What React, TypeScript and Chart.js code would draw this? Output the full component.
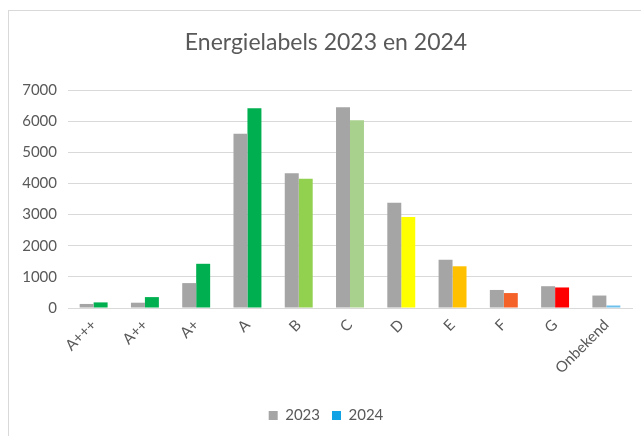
import React, { useEffect, useRef } from "react";
import { Chart, registerables } from "chart.js";

Chart.register(...registerables);

const categories = ["A+++", "A++", "A+", "A", "B", "C", "D", "E", "F", "G", "Onbekend"];
const values2023 = [130, 170, 800, 5600, 4330, 6450, 3380, 1550, 580, 700, 400];
const values2024 = [180, 350, 1420, 6420, 4150, 6030, 2920, 1340, 480, 660, 80];
const colors2024 = ["#00b050", "#00b050", "#00b050", "#00b050", "#92d050", "#a9d18e", "#ffff00", "#ffc000", "#f4622a", "#ff0000", "#6cc0ec"];
const color2023 = "#a5a5a5";
const legendColor2024 = "#10a2e4";
const yTicks = [0, 1000, 2000, 3000, 4000, 5000, 6000, 7000];

const FONT = "Lato, 'Open Sans', sans-serif";

export default function App() {
  const ref = useRef<HTMLCanvasElement | null>(null);

  useEffect(() => {
    if (!ref.current) return;
    const chart = new Chart(ref.current, {
      type: "bar",
      data: {
        labels: categories,
        datasets: [
          { label: "2023", data: values2023, backgroundColor: color2023, categoryPercentage: 0.545, barPercentage: 1 },
          { label: "2024", data: values2024, backgroundColor: colors2024, categoryPercentage: 0.545, barPercentage: 1 },
        ],
      },
      options: {
        animation: false,
        responsive: false,
        maintainAspectRatio: false,
        layout: { padding: { left: 12, right: 9, top: 0, bottom: 3 } },
        plugins: {
          title: {
            display: true,
            text: "Energielabels 2023 en 2024",
            color: "#595959",
            font: { family: FONT, size: 23, weight: "normal" },
            padding: { top: 19, bottom: 33.5 },
          },
          tooltip: { enabled: false },
          legend: {
            position: "bottom",
            labels: {
              color: "#595959",
              font: { family: FONT, size: 15 },
              boxWidth: 9,
              boxHeight: 9,
              padding: 12,
              generateLabels: () => [
                { text: "2023", fillStyle: color2023, strokeStyle: color2023, lineWidth: 0, datasetIndex: 0, fontColor: "#595959" },
                { text: "2024", fillStyle: legendColor2024, strokeStyle: legendColor2024, lineWidth: 0, datasetIndex: 1, fontColor: "#595959" },
              ],
            },
          },
        },
        scales: {
          x: {
            grid: { display: false, drawTicks: false },
            border: { display: true, color: "#d9d9d9" },
            ticks: {
              color: "#595959",
              font: { family: FONT, size: 15 },
              maxRotation: 45,
              minRotation: 45,
              padding: 8,
              autoSkip: false,
            },
            afterFit: (s: any) => { s.height = 88; },
          },
          y: {
            min: 0,
            max: 7000,
            afterBuildTicks: (s: any) => { s.ticks = yTicks.map((v) => ({ value: v })); },
            grid: { color: "#d9d9d9", drawTicks: false },
            border: { display: false },
            ticks: {
              color: "#595959",
              font: { family: FONT, size: 15 },
              padding: 11,
              callback: (v: any) => String(v),
            },
            afterFit: (s: any) => { s.width = 48; },
          },
        },
      },
    });
    return () => chart.destroy();
  }, []);

  return (
    <div style={{ position: "absolute", left: 0, top: 0, width: 641, height: 436, background: "#fff" }}>
      <div style={{ position: "absolute", left: 8, top: 10, right: 0, bottom: 0, borderLeft: "1px solid #d9d9d9", borderTop: "1px solid #d9d9d9" }} />
      <canvas ref={ref} width={633} height={426} style={{ position: "absolute", left: 8, top: 10, width: 633, height: 426 }} />
    </div>
  );
}
